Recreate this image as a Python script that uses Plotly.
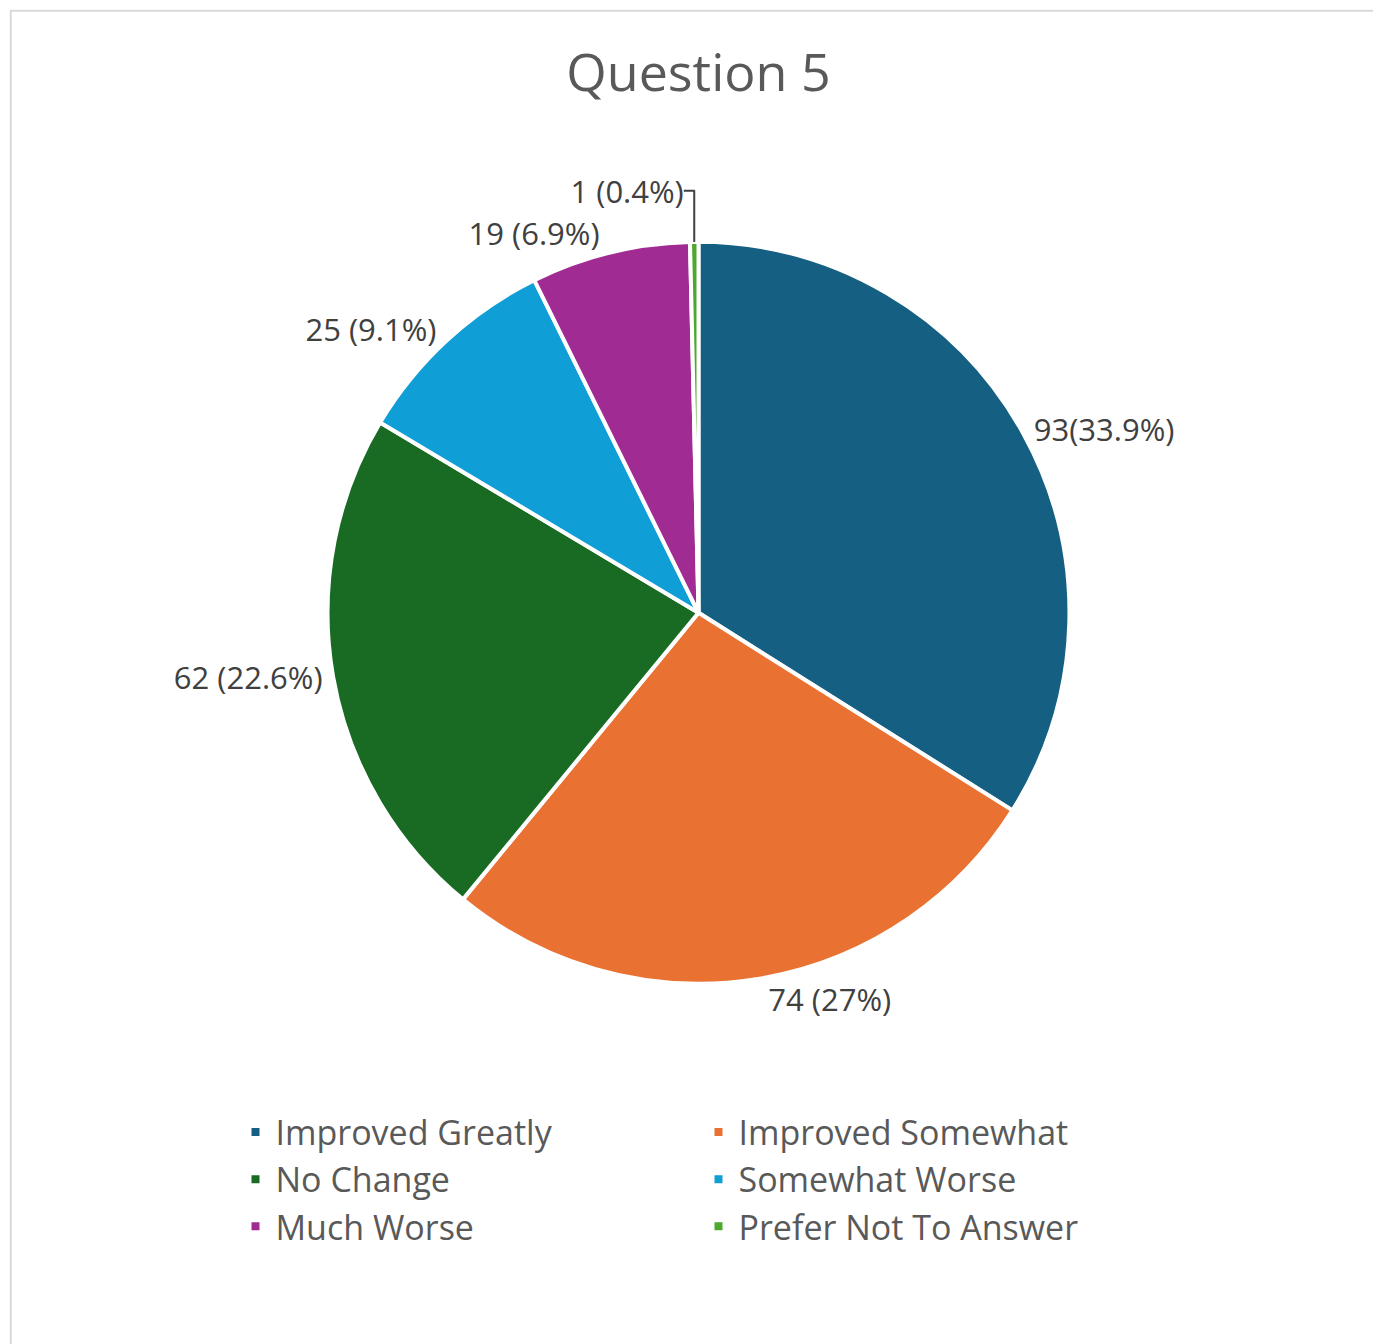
import plotly.graph_objects as go

categories = ["Improved Greatly", "Improved Somewhat", "No Change",
              "Somewhat Worse", "Much Worse", "Prefer Not To Answer"]
counts = [93, 74, 62, 25, 19, 1]
label_text = ["93(33.9%)", "74 (27%)", "62 (22.6%)", "25 (9.1%)", "19 (6.9%)", "1 (0.4%)"]
colors = ["#156082", "#E97132", "#196B24", "#0F9ED5", "#A02B93", "#4EA72E"]

fig = go.Figure(go.Pie(
    labels=categories,
    values=counts,
    text=label_text,
    texttemplate="%{text}",
    textposition="outside",
    textfont=dict(size=31, color="#404040"),
    marker=dict(colors=colors, line=dict(color="white", width=4)),
    sort=False,
    direction="clockwise",
    rotation=0,
    domain=dict(x=[0.1, 0.9], y=[0.274, 0.826]),
    automargin=False,
    hoverinfo="label+value",
))

fig.update_layout(
    width=1381, height=1344,
    paper_bgcolor="white",
    margin=dict(t=0, b=0, l=0, r=0),
    font=dict(family="Open Sans, sans-serif", color="#595959"),
    title=dict(text="Question 5", x=0.5, y=0.965, xanchor="center",
               font=dict(size=52, color="#595959")),
    legend=dict(orientation="h", x=0.5, xanchor="center", y=0.185, yanchor="top",
                entrywidth=418, entrywidthmode="pixels",
                font=dict(size=34, color="#595959"), traceorder="normal",
                itemwidth=30),
    shapes=[dict(type="rect", xref="paper", yref="paper", x0=0.002, y0=0.003,
                 x1=0.997, y1=0.998, line=dict(color="#D9D9D9", width=2))],
)

fig.write_html("out.html")
